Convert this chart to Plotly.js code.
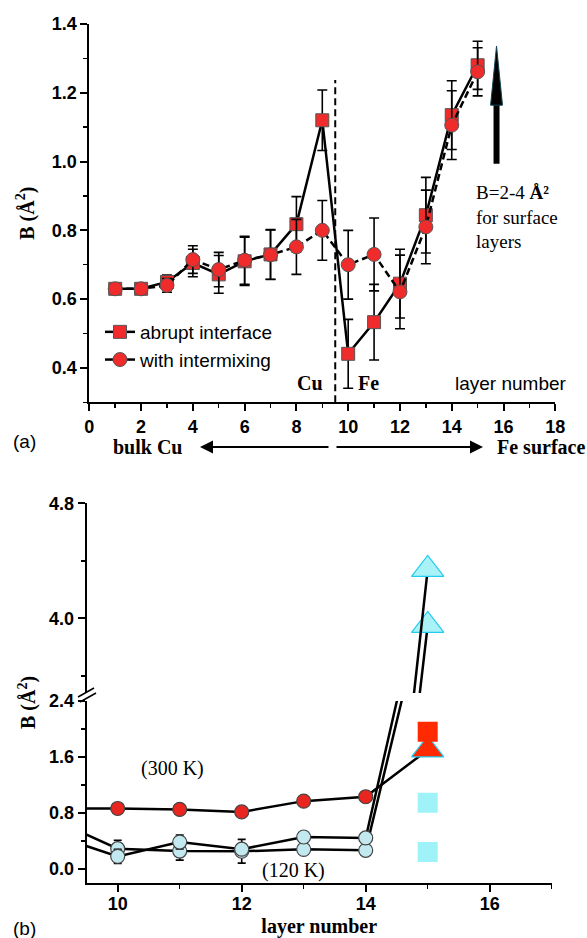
<!DOCTYPE html>
<html><head><meta charset="utf-8">
<script src="https://cdn.plot.ly/plotly-3.0.1.min.js"></script>
<style>html,body{margin:0;padding:0;background:#fff}#chart{width:587px;height:938px}</style>
</head><body><div id="chart"></div>
<script>
// ---------- Panel (a) data ----------
const layersA   = [1, 2, 3, 4, 5, 6, 7, 8, 9, 10, 11, 12, 13, 14, 15];
const abruptB   = [0.63, 0.63, 0.65, 0.705, 0.672, 0.71, 0.73, 0.818, 1.12, 0.441, 0.533, 0.645, 0.844, 1.135, 1.28];
const abruptErr = [0.01, 0.01, 0.02, 0.04, 0.055, 0.07, 0.072, 0.08, 0.088, 0.10, 0.11, 0.10, 0.11, 0.10, 0.07];
const mixB      = [0.63, 0.63, 0.64, 0.715, 0.686, 0.713, 0.729, 0.752, 0.80, 0.70, 0.73, 0.621, 0.81, 1.106, 1.261];
const mixErr    = [0.01, 0.01, 0.02, 0.04, 0.05, 0.07, 0.072, 0.08, 0.087, 0.10, 0.106, 0.107, 0.107, 0.10, 0.07];
const seriesNames = ['abrupt interface', 'with intermixing'];

// ---------- Panel (b) data ----------
const layersB    = [9, 10, 11, 12, 13, 14, 15];
const b300K      = [0.86, 0.862, 0.848, 0.813, 0.967, 1.03, 1.70];
const b300KErr   = [0, 0.02, 0.02, 0.02, 0.02, 0.03, 0];
const b120Ka     = [0.69, 0.287, 0.253, 0.25, 0.277, 0.263, 3.95];
const b120KaErr  = [0, 0.12, 0.13, 0.17, 0.02, 0.02, 0];
const b120Kb     = [0.47, 0.177, 0.382, 0.28, 0.454, 0.44, 4.34];
const b120KbErr  = [0, 0.1, 0.1, 0.05, 0.02, 0.02, 0];
const surfLayer  = [15, 15, 15];
const surfB      = [1.96, 0.943, 0.24];
const surfTemp   = ['300 K', '120 K', '120 K'];

// ---------- styling ----------
const W = 587, H = 938;
const px = v => v / W, py = v => 1 - v / H;
const SANS = 'Liberation Sans, Arial, sans-serif';
const SERIF = 'Liberation Serif, Times New Roman, serif';
const RED = '#ef2b2b', RED2 = '#ff2a00', CYAN_C = '#c2e9f0', CYAN_T = '#a8f2f8', CYAN_L = '#22ccee', CYAN_S = '#9ff2f7';

const lastB = layersB.length - 1;
const symB = layersB.map((_, i) => i === lastB ? 'triangle-up' : 'circle');
const sizeB = layersB.map((_, i) => i === lastB ? 28 : 14);

function errs(arr, w) { return {type: 'data', array: arr, visible: true, color: 'black', thickness: 1.6, width: w}; }

const traces = [
  {x: layersA, y: abruptB, xaxis: 'x', yaxis: 'y', mode: 'lines+markers', showlegend: false,
   line: {color: 'black', width: 2.5},
   marker: {symbol: 'square', size: 13, opacity: 1, color: RED, line: {color: '#555', width: 1}},
   error_y: errs(abruptErr, 5)},
  {x: layersA, y: mixB, xaxis: 'x', yaxis: 'y', mode: 'lines+markers', showlegend: false,
   line: {color: 'black', width: 2.5, dash: '7px,4px'},
   marker: {symbol: 'circle', size: 14, opacity: 1, color: RED, line: {color: '#555', width: 1}},
   error_y: errs(mixErr, 5)},
  {x: [null], y: [null], xaxis: 'x', yaxis: 'y', mode: 'lines+markers', name: seriesNames[0],
   line: {color: 'black', width: 2.5},
   marker: {symbol: 'square', size: 13, opacity: 1, color: RED, line: {color: '#555', width: 1}}},
  {x: [null], y: [null], xaxis: 'x', yaxis: 'y', mode: 'lines+markers', name: seriesNames[1],
   line: {color: 'black', width: 2.5},
   marker: {symbol: 'circle', size: 14, opacity: 1, color: RED, line: {color: '#555', width: 1}}},
];

// 120 K series drawn on both segments of the broken axis
[[b120Ka, b120KaErr], [b120Kb, b120KbErr]].forEach(([vals, e]) => {
  ['y2', 'y3'].forEach(ya => {
    const t = {x: layersB, y: vals, xaxis: 'x2', yaxis: ya, mode: 'lines+markers', showlegend: false,
      line: {color: 'black', width: 2.5},
      marker: {symbol: symB, size: sizeB, opacity: 1,
        color: layersB.map((_, i) => i === lastB ? CYAN_T : CYAN_C),
        line: {color: layersB.map((_, i) => i === lastB ? CYAN_L : '#444'), width: 1.2}}};
    if (ya === 'y2') t.error_y = errs(e, 4);
    traces.push(t);
  });
});
traces.push({x: layersB, y: b300K, xaxis: 'x2', yaxis: 'y2', mode: 'lines+markers', showlegend: false,
  line: {color: 'black', width: 2.5},
  marker: {symbol: symB, size: sizeB, opacity: 1,
    color: layersB.map((_, i) => i === lastB ? RED2 : '#e8261f'),
    line: {color: layersB.map((_, i) => i === lastB ? CYAN_L : '#444'), width: 1.2}},
  error_y: errs(b300KErr, 4)});
traces.push({x: surfLayer, y: surfB, xaxis: 'x2', yaxis: 'y2', mode: 'markers', showlegend: false,
  text: surfTemp,
  marker: {symbol: 'square', size: 20, opacity: 1, color: surfTemp.map(t => t === '300 K' ? RED2 : CYAN_S), line: {width: 0}}});

const tickFont = {family: SANS, size: 18, weight: 'bold', color: 'black'};
function ax(extra) {
  return Object.assign({showline: true, linecolor: 'black', linewidth: 2, ticks: 'outside', ticklen: 7, tickwidth: 2,
    tickcolor: 'black', showgrid: false, zeroline: false, tickfont: tickFont, fixedrange: true}, extra);
}
function ann(text, x, y, font, extra) {
  return Object.assign({text: text, x: x, y: y, xref: 'paper', yref: 'paper', showarrow: false,
    xanchor: 'center', yanchor: 'middle', font: font}, extra || {});
}
const serif20b = {family: SERIF, size: 20, weight: 'bold', color: 'black'};
const serif20 = {family: SERIF, size: 20, color: 'black'};
const sans19 = {family: SANS, size: 19, color: 'black'};

const layout = {
  width: W, height: H, margin: {l: 0, r: 0, t: 0, b: 0},
  paper_bgcolor: 'white', plot_bgcolor: 'rgba(0,0,0,0)',
  xaxis: ax({domain: [px(89.3), px(555.3)], anchor: 'y', range: [0, 18], tick0: 0, dtick: 2,
    minor: {dtick: 1, ticks: 'outside', ticklen: 4, tickwidth: 1.5, tickcolor: 'black'}}),
  yaxis: ax({domain: [py(402.3), py(24)], anchor: 'x', range: [0.3, 1.4], tick0: 0, dtick: 0.2, tickformat: '.1f',
    minor: {dtick: 0.1, ticks: 'outside', ticklen: 4, tickwidth: 1.5, tickcolor: 'black'},
    title: {text: 'B (Å<sup>2</sup>)', font: serif20b, standoff: 12}}),
  xaxis2: ax({domain: [px(86.7), px(551.7)], anchor: 'y2', range: [9.5, 17], tick0: 0, dtick: 2,
    ticklabelstandoff: -3,
    minor: {dtick: 1, ticks: 'outside', ticklen: 4, tickwidth: 1.5, tickcolor: 'black'},
    title: {text: 'layer number', font: serif20b, standoff: 8}}),
  yaxis2: ax({domain: [py(882.7), py(701)], anchor: 'x2', range: [-0.2, 2.4], tick0: 0, dtick: 0.8, tickformat: '.1f',
    minor: {dtick: 0.4, ticks: 'outside', ticklen: 4, tickwidth: 1.5, tickcolor: 'black'}}),
  yaxis3: ax({domain: [py(693), py(503.3)], anchor: 'x2', range: [3.48, 4.8], tick0: 0, dtick: 0.8, tickformat: '.1f',
    minor: {dtick: 0.4, ticks: 'outside', ticklen: 4, tickwidth: 1.5, tickcolor: 'black'}}),
  legend: {x: px(100), y: py(313), xanchor: 'left', yanchor: 'top', font: sans19,
    bgcolor: 'rgba(0,0,0,0)', tracegroupgap: 0},
  shapes: [
    {type: 'line', xref: 'x', yref: 'y', x0: 9.5, x1: 9.5, y0: 0.3, y1: 1.237,
     line: {color: 'black', width: 2, dash: '7px,4px'}},
    {type: 'line', xref: 'x', yref: 'y', x0: 15.73, x1: 15.73, y0: 0.994, y1: 1.17,
     line: {color: 'black', width: 6}},
    {type: 'path', xref: 'x', yref: 'y', path: 'M 15.50 1.164 L 15.73 1.336 L 15.96 1.164 Z',
     fillcolor: 'black', line: {color: '#114455', width: 1}},
    {type: 'line', xref: 'paper', yref: 'paper', x0: px(78), y0: py(697), x1: px(94), y1: py(688),
     line: {color: 'black', width: 1.5}},
    {type: 'line', xref: 'paper', yref: 'paper', x0: px(80), y0: py(702), x1: px(96), y1: py(693),
     line: {color: 'black', width: 1.5}},
  ],
  annotations: [
    {text: 'Cu', x: 8.52, y: 0.355, xref: 'x', yref: 'y', showarrow: false, font: serif20b},
    {text: 'Fe', x: 10.8, y: 0.355, xref: 'x', yref: 'y', showarrow: false, font: serif20b},
    {text: 'layer number', x: 16.28, y: 0.355, xref: 'x', yref: 'y', showarrow: false, font: sans19},
    {text: 'B=2-4 <b>Å²</b><br>for surface<br>layers', x: 14.85, y: 0.945, xref: 'x', yref: 'y',
     xanchor: 'left', yanchor: 'top', align: 'left', showarrow: false, font: {family: SERIF, size: 19, color: 'black'}},
    ann('(a)', px(24), py(441), sans19),
    ann('bulk Cu', px(148.5), py(447), serif20b),
    ann('Fe surface', px(587), py(447), serif20b, {xanchor: 'right'}),
    {text: '', x: px(200), y: py(447), xref: 'paper', yref: 'paper', ax: 130, ay: 0, showarrow: true,
     arrowhead: 2, arrowsize: 1.3, arrowwidth: 2, arrowcolor: 'black'},
    {text: '', x: px(483), y: py(447), xref: 'paper', yref: 'paper', ax: -148, ay: 0, showarrow: true,
     arrowhead: 2, arrowsize: 1.3, arrowwidth: 2, arrowcolor: 'black'},
    ann('(300 K)', px(172.5), py(768), serif20),
    ann('(120 K)', px(294), py(870), serif20),
    ann('(b)', px(24), py(928), sans19),
    ann('B (Å<sup>2</sup>)', px(27), py(703), serif20b, {textangle: -90}),
  ],
};

Plotly.newPlot('chart', traces, layout, {staticPlot: true, displayModeBar: false});
</script></body></html>
